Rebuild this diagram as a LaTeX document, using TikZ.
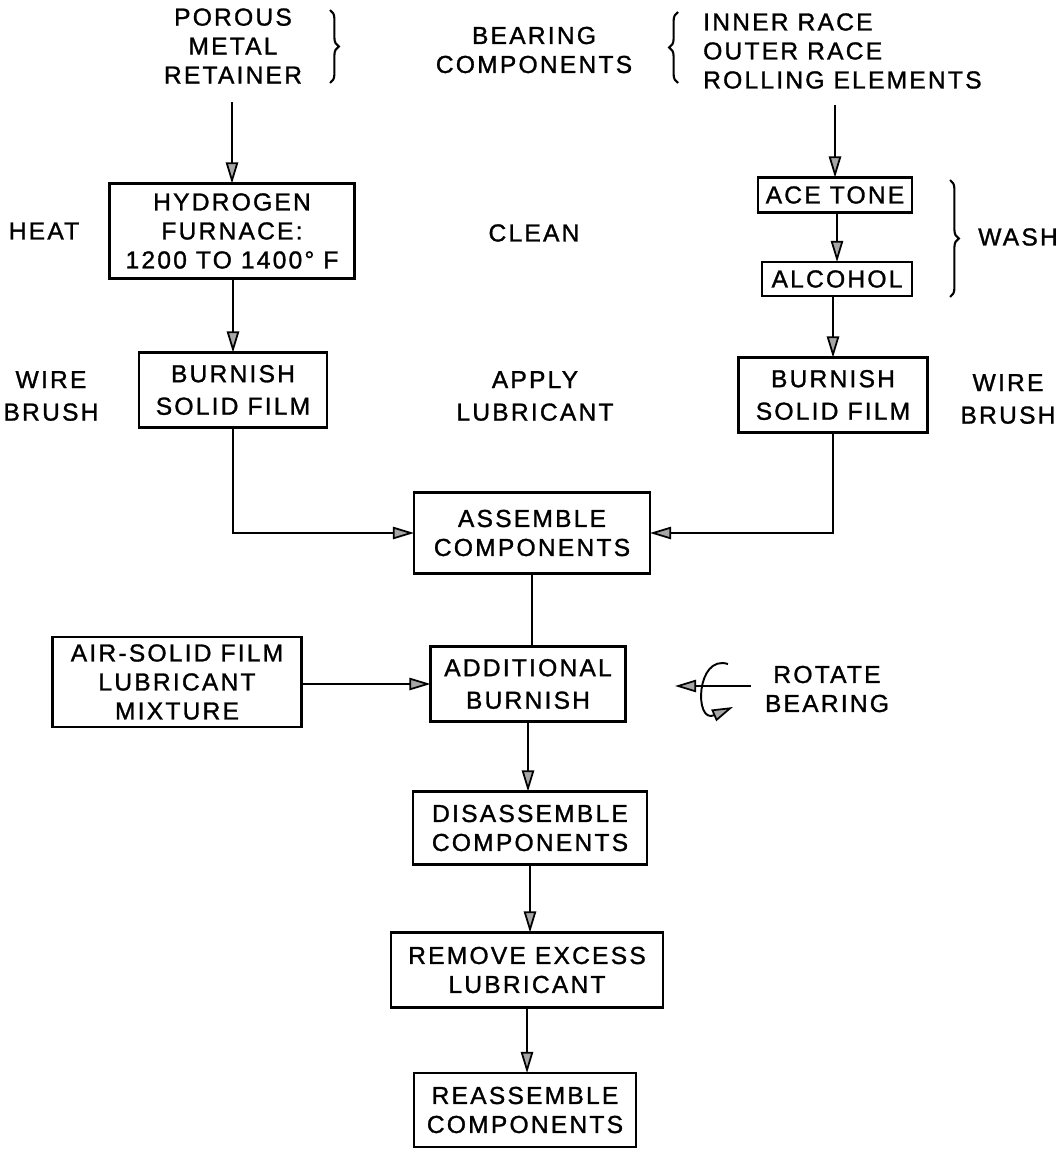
\documentclass[tikz,border=0pt]{standalone}
\usepackage{fontspec}
\setmainfont{Liberation Sans}[LetterSpace=9, FakeBold=1.2]
\usetikzlibrary{arrows.meta, positioning, decorations.pathreplacing}

\begin{document}
\begin{tikzpicture}[
    x=0.02cm, y=-0.02cm,
    every node/.style={font=\fontsize{14}{16.5}\selectfont, align=center},
    stage/.style={rectangle, draw, line width=1.4pt, inner sep=0pt, outer sep=0pt},
    flow/.style={-{Triangle[length=12pt, width=7pt, fill=gray!70, line width=1pt]}, line width=1.1pt},
    link/.style={line width=1.1pt},
    grp/.style={decorate, decoration={brace, amplitude=5pt}, line width=1.2pt}
]
\useasboundingbox (0,0) rectangle (1061,1149);

% Inputs
\node (retainer) at (233,46) {POROUS\\METAL\\RETAINER};
\draw[grp] (330,10) -- (330,83);
\node (bearing) at (534,50) {BEARING\\COMPONENTS};
\draw[grp] (678,83) -- (678,12);
\node[anchor=west, align=left] (parts) at (697,51) {INNER RACE\\OUTER RACE\\ROLLING ELEMENTS};

% Clean
\node (heat) at (44,231) {HEAT};
\node[stage, minimum width=4.9cm, minimum height=1.9cm] (furnace) at (232,231) {HYDROGEN\\FURNACE:\\1200 TO 1400° F};
\node (clean) at (534,233) {CLEAN};
\node[stage, minimum width=3.08cm, minimum height=0.7cm] (acetone) at (835,195) {ACE TONE};
\node[stage, minimum width=3.0cm, minimum height=0.68cm] (alcohol) at (837,279) {ALCOHOL};
\draw[grp] (950,180) -- (950,297);
\node (wash) at (1018,237) {WASH};

% Apply lubricant
\node (wireL) at (51,396) {WIRE\\[2pt]BRUSH};
\node[stage, minimum width=3.76cm, minimum height=1.5cm] (burnL) at (233,390) {BURNISH\\[2pt]SOLID FILM};
\node (apply) at (535,396) {APPLY\\[2pt]LUBRICANT};
\node[stage, minimum width=3.78cm, minimum height=1.5cm] (burnR) at (833,395) {BURNISH\\[2pt]SOLID FILM};
\node (wireR) at (1008,399) {WIRE\\[2pt]BRUSH};

% Assembly line
\node[stage, minimum width=4.72cm, minimum height=1.62cm] (assemble) at (532,533) {ASSEMBLE\\COMPONENTS};
\node[stage, minimum width=4.98cm, minimum height=1.8cm] (airmix) at (177,682) {AIR-SOLID FILM\\LUBRICANT\\MIXTURE};
\node[stage, minimum width=3.9cm, minimum height=1.5cm] (extra) at (528,684) {ADDITIONAL\\[2pt]BURNISH};
\node (rotate) at (827,689) {ROTATE\\BEARING};
\coordinate (rotA) at (751,686);
\coordinate (rotB) at (675,686);
\node[stage, minimum width=4.68cm, minimum height=1.46cm] (disasm) at (530,828) {DISASSEMBLE\\COMPONENTS};
\node[stage, minimum width=5.44cm, minimum height=1.5cm] (remove) at (527,970) {REMOVE EXCESS\\LUBRICANT};
\node[stage, minimum width=4.44cm, minimum height=1.48cm] (reasm) at (525,1110) {REASSEMBLE\\COMPONENTS};

% Connectors
\draw[flow] ([yshift=-7pt]furnace.north |- retainer.south) -- (furnace.north);
\draw[flow] ([yshift=-6pt]acetone.north |- parts.south) -- (acetone.north);
\draw[flow] (acetone.south -| alcohol.north) -- (alcohol.north);
\draw[flow] (alcohol.south -| burnR.north) -- (burnR.north);
\draw[flow] (furnace.south -| burnL.north) -- (burnL.north);
\draw[flow] (burnL.south) |- (assemble.west);
\draw[flow] (burnR.south) |- (assemble.east);
\draw[link] (assemble.south) -- (assemble.south |- extra.north);
\draw[flow] (airmix.east |- extra.west) -- (extra.west);
\draw[flow] (rotA) -- (rotB);
\draw[flow] (728,664) .. controls (696,654) and (694,724) .. (733,707);
\draw[flow] (extra.south) -- (extra.south |- disasm.north);
\draw[flow] (disasm.south) -- (disasm.south |- remove.north);
\draw[flow] (remove.south) -- (remove.south |- reasm.north);

\end{tikzpicture}
\end{document}
